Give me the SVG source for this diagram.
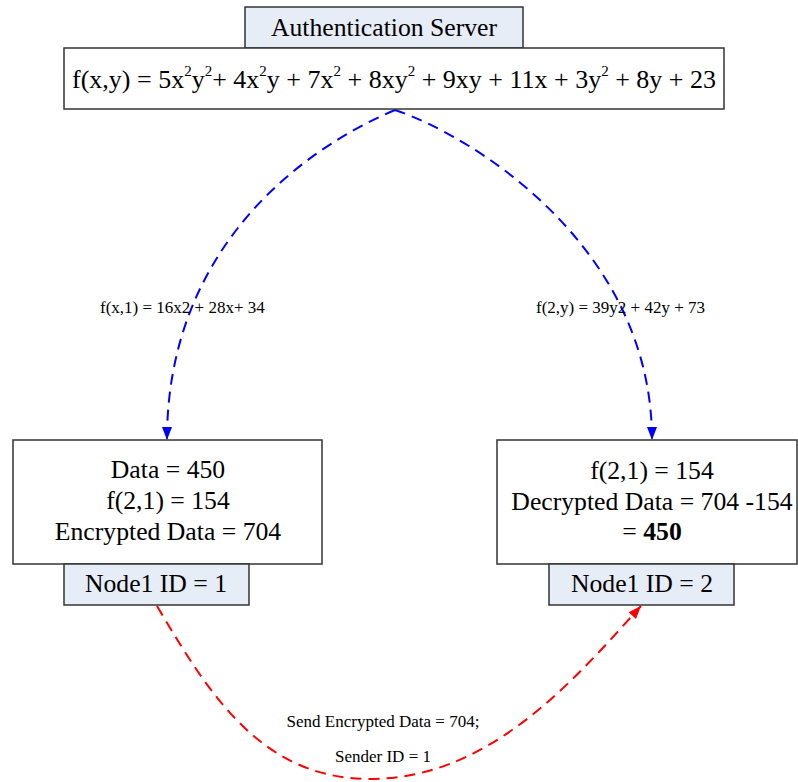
<svg xmlns="http://www.w3.org/2000/svg" width="798" height="782" viewBox="0 0 798 782">
<defs>
<style>
.box{fill:#ffffff;stroke:#333333;stroke-width:1.5}
.tab{fill:#e7edf6;stroke:#333333;stroke-width:1.5}
.t{font-family:"Liberation Serif","Times New Roman",serif;fill:#000;text-anchor:middle}
.big{font-size:25.7px}
.lbl{font-family:"Liberation Serif","Times New Roman",serif;fill:#000;font-size:17px}
.blue{fill:none;stroke:#0000ff;stroke-width:2;stroke-dasharray:11 7}
.red{fill:none;stroke:#ff0000;stroke-width:2;stroke-dasharray:11 7}
</style>
<marker id="ab" markerUnits="userSpaceOnUse" markerWidth="14" markerHeight="12" refX="13" refY="6" orient="auto"><path d="M0,1 L13,6 L0,11 z" fill="#0000ff"/></marker>
<marker id="ar" markerUnits="userSpaceOnUse" markerWidth="14" markerHeight="12" refX="13" refY="6" orient="auto"><path d="M0,1 L13,6 L0,11 z" fill="#ff0000"/></marker>
</defs>
<rect width="798" height="782" fill="#ffffff"/>

<g id="connectors">
<path class="blue" d="M395,110 C300,150 167,250 167,440" marker-end="url(#ab)"/>
<path class="blue" d="M395,110 C470,135 652,245 652,440" marker-end="url(#ab)"/>
<path class="red" d="M157,606 C208,692 260,779 370,779 C490,779 574,680 641,606" marker-end="url(#ar)"/>
<text class="lbl" x="100" y="313">f(x,1) = 16x2 + 28x+ 34</text>
<text class="lbl" x="536" y="313">f(2,y) = 39y2 + 42y + 73</text>
<text class="lbl" x="383" y="727" text-anchor="middle">Send Encrypted Data = 704;</text>
<text class="lbl" x="383" y="762" text-anchor="middle">Sender ID = 1</text>
</g>

<g id="auth-server">
<rect class="tab" x="245" y="7" width="278" height="41"/>
<text class="t big" x="384" y="36">Authentication Server</text>
</g>

<g id="formula">
<rect class="box" x="64" y="48" width="660" height="61"/>
<text x="72" y="88" font-family="Liberation Serif, Times New Roman, serif" font-size="26" textLength="644" lengthAdjust="spacing">f(x,y) = 5x<tspan font-size="15" dy="-12">2</tspan><tspan dy="12">y</tspan><tspan font-size="15" dy="-12">2</tspan><tspan dy="12">+ 4x</tspan><tspan font-size="15" dy="-12">2</tspan><tspan dy="12">y + 7x</tspan><tspan font-size="15" dy="-12">2</tspan><tspan dy="12"> + 8xy</tspan><tspan font-size="15" dy="-12">2</tspan><tspan dy="12"> + 9xy + 11x + 3y</tspan><tspan font-size="15" dy="-12">2</tspan><tspan dy="12"> + 8y + 23</tspan></text>
</g>

<g id="node1">
<rect class="box" x="13" y="440" width="309" height="124"/>
<text class="t big" x="168" y="478">Data = 450</text>
<text class="t big" x="168" y="509">f(2,1) = 154</text>
<text class="t big" x="168" y="540">Encrypted Data = 704</text>
</g>
<g id="node1-id">
<rect class="tab" x="64" y="564" width="185" height="41"/>
<text class="t big" x="156" y="592">Node1 ID = 1</text>
</g>

<g id="node2">
<rect class="box" x="497" y="440" width="300" height="124"/>
<text class="t big" x="652" y="479">f(2,1) = 154</text>
<text class="t big" x="652" y="510">Decrypted Data = 704 -154</text>
<text class="t big" x="652" y="540">= <tspan font-weight="bold">450</tspan></text>
</g>
<g id="node2-id">
<rect class="tab" x="549" y="564" width="185" height="41"/>
<text class="t big" x="642" y="592">Node1 ID = 2</text>
</g>
</svg>
